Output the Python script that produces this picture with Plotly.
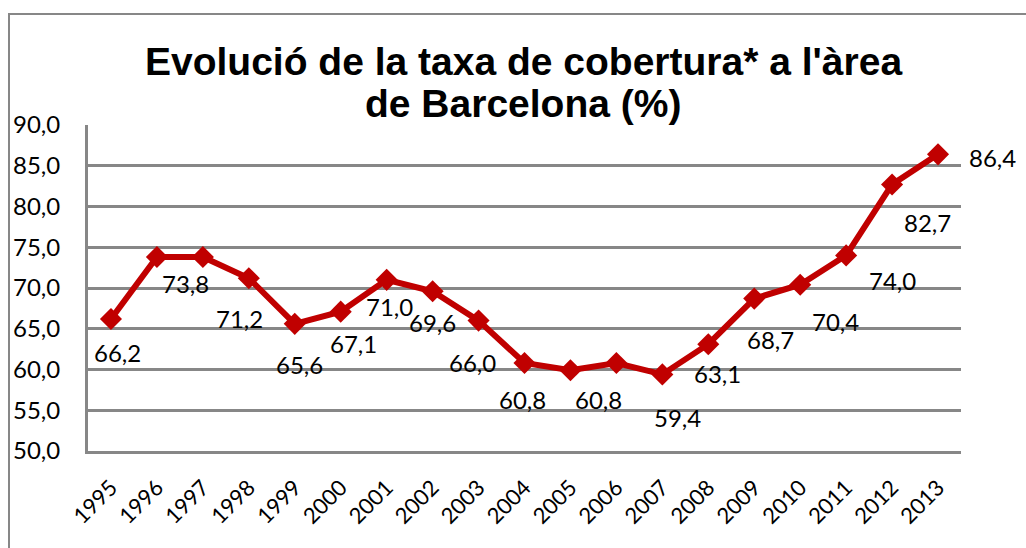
import plotly.graph_objects as go

years = ["1995", "1996", "1997", "1998", "1999", "2000", "2001", "2002", "2003", "2004",
         "2005", "2006", "2007", "2008", "2009", "2010", "2011", "2012", "2013"]
coverage = [66.2, 73.8, 73.8, 71.2, 65.6, 67.1, 71.0, 69.6, 66.0, 60.8,
            59.9, 60.8, 59.4, 63.1, 68.7, 70.4, 74.0, 82.7, 86.4]

title_line1 = "Evolució de la taxa de cobertura* a l'àrea"
title_line2 = "de Barcelona (%)"

# label pixel offsets (dx, dy-down); None = label not shown
label_offsets = [(7, 34), (29, 26), None, (-9, 40), (5, 41), (13, 32), (3, 27), (0, 31),
                 (-6, 42), (-2, 37), None, (-18, 37), (15, 43), (9, 29), (16, 41),
                 (35, 37), (46, 25), (35, 38), (54, 3)]

RED = "#C00000"
GRAY = "#878787"
LABEL_FONT = "Lato, Carlito, Calibri, sans-serif"

fig = go.Figure()
fig.add_trace(go.Scatter(
    x=years, y=coverage, mode="lines+markers",
    line=dict(color=RED, width=6),
    marker=dict(symbol="diamond", size=17, color=RED),
    hoverinfo="skip", showlegend=False,
))

annotations = []
for i, (v, off) in enumerate(zip(coverage, label_offsets)):
    if off is None:
        continue
    annotations.append(dict(
        x=i, y=v, xref="x", yref="y", text=f"{v:.1f}".replace(".", ","),
        showarrow=False, xshift=off[0], yshift=-off[1],
        font=dict(family=LABEL_FONT, size=24, color="#000000"),
    ))

TITLE_FONT = dict(family="Liberation Sans, Arial, sans-serif", size=39, color="#000000")
annotations.append(dict(text=f"<b>{title_line1}</b>", xref="paper", yref="paper",
                        x=(523 - 88) / 873, y=(451 - 61) / 326, xanchor="center", yanchor="middle",
                        showarrow=False, font=TITLE_FONT))
annotations.append(dict(text=f"<b>{title_line2}</b>", xref="paper", yref="paper",
                        x=(523 - 88) / 873, y=(451 - 104) / 326, xanchor="center", yanchor="middle",
                        showarrow=False, font=TITLE_FONT))

fig.update_layout(
    width=1026, height=548,
    margin=dict(l=88, r=65, t=125, b=97),
    paper_bgcolor="#FFFFFF", plot_bgcolor="#FFFFFF",
    separators=",.",
    annotations=annotations,
    shapes=[dict(type="rect", xref="paper", yref="paper",
                 x0=(9 - 88) / 873, x1=1.2, y0=-0.5, y1=(451 - 14) / 326,
                 line=dict(color=GRAY, width=2), layer="below")],
    xaxis=dict(
        type="category", range=[-0.5, 18.5],
        showgrid=False, showline=True, linecolor=GRAY, linewidth=3,
        tickangle=-45, ticks="", ticklabelstandoff=12,
        tickfont=dict(family=LABEL_FONT, size=22, color="#000000"),
        zeroline=False,
    ),
    yaxis=dict(
        range=[50, 90], dtick=5, tickformat=".1f",
        showgrid=True, gridcolor=GRAY, gridwidth=3,
        showline=True, linecolor=GRAY, linewidth=3,
        ticks="", ticklabelstandoff=20,
        tickfont=dict(family=LABEL_FONT, size=24, color="#000000"),
        zeroline=False,
    ),
)

fig.write_html("out.html", config={"displayModeBar": False},
               post_script="document.body.style.margin='0';document.body.style.overflow='hidden';")
